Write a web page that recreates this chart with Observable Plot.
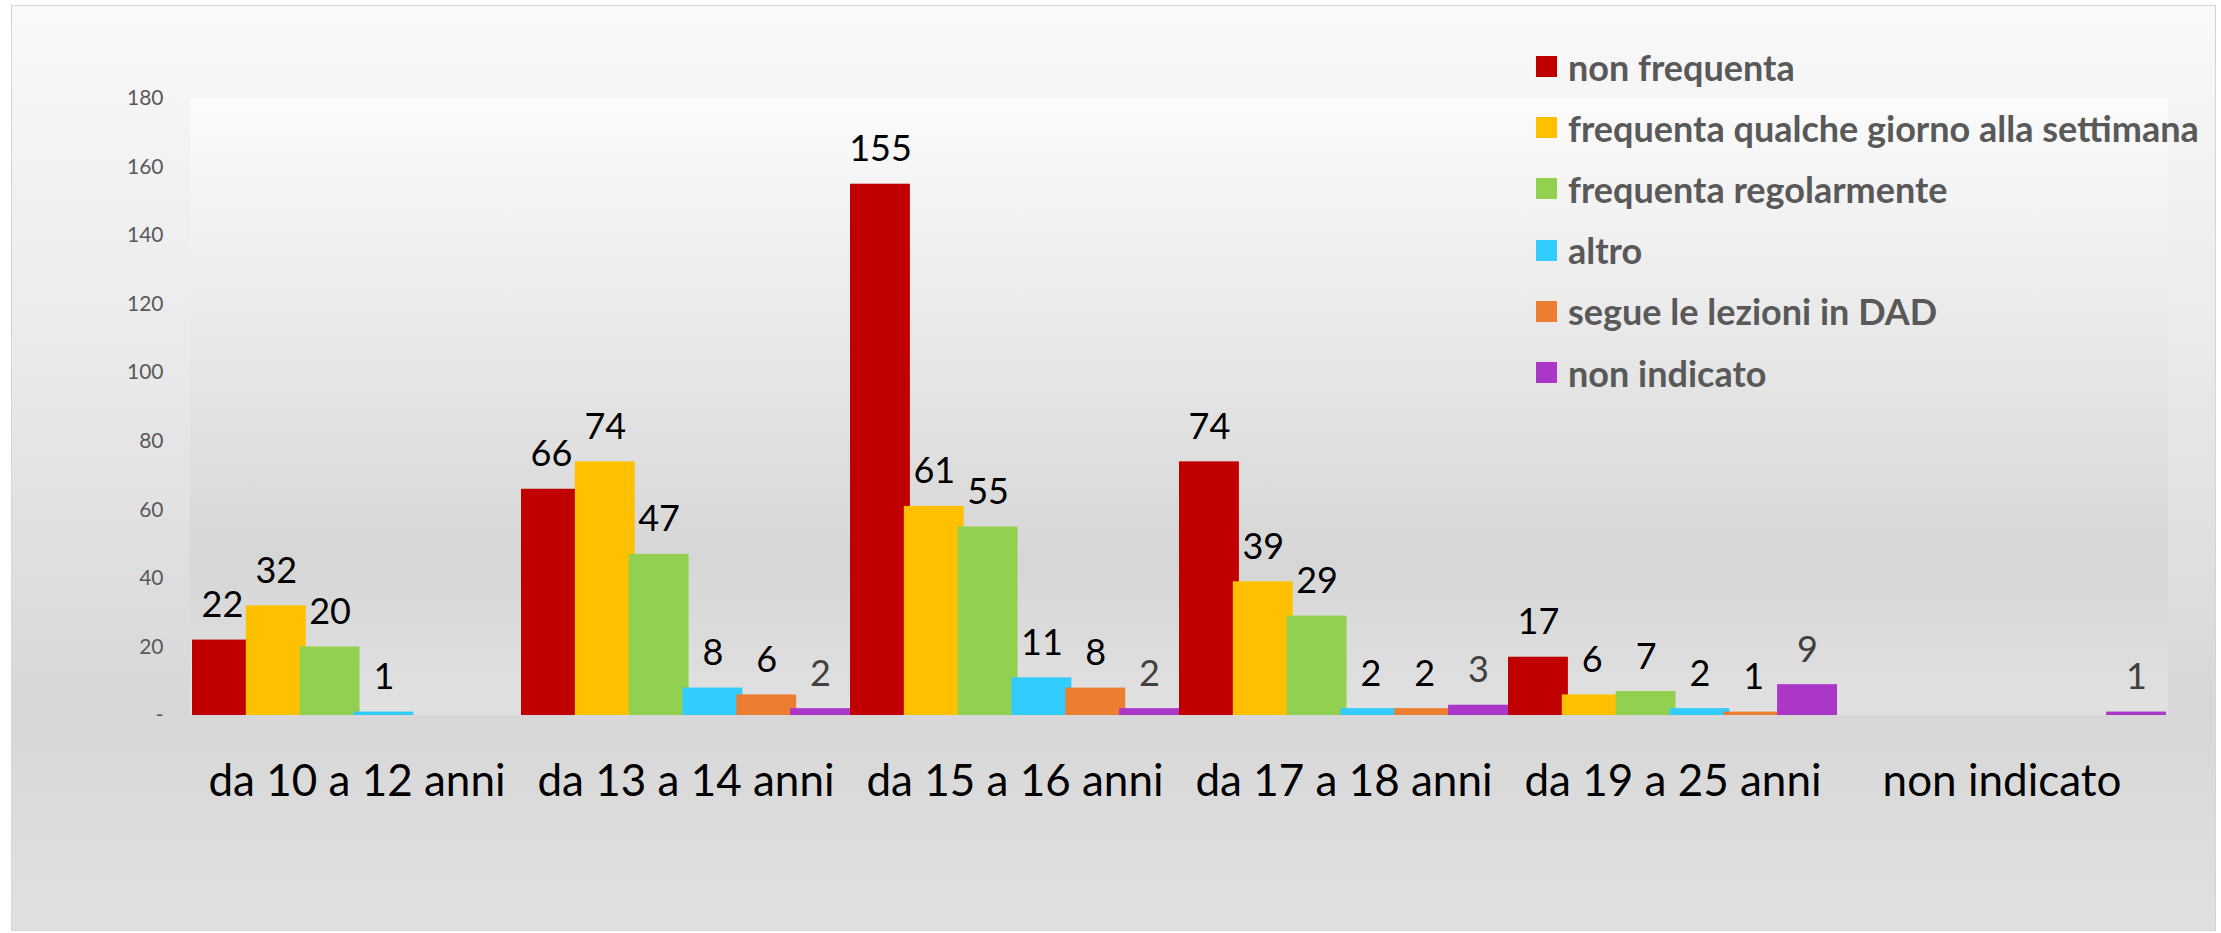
<!DOCTYPE html>
<html>
<head>
<meta charset="utf-8">
<script src="https://cdn.jsdelivr.net/npm/d3@7"></script>
<script src="https://cdn.jsdelivr.net/npm/@observablehq/plot@0.6"></script>
<style>
  body { margin: 0; background: #ffffff; }
  #wrap { position: relative; width: 2221px; height: 933px; overflow: hidden; font-family: Lato, sans-serif; }
  #outer { position: absolute; left: 11px; top: 5px; width: 2203px; height: 924px; border: 1px solid #d4d4d4;
    background: linear-gradient(to bottom, #f9f9f9 0%, #ebebeb 35%, #d7d7d7 76%, #e0e0e0 100%); }
  #plotbg { position: absolute;
    background: linear-gradient(to bottom, #fbfbfb 0%, #e8e8e8 40%, #d6d6d6 75%, #e1e1e1 100%); }
  #chart { position: absolute; left: 0; top: 0; }
  #legend { position: absolute; left: 1536px; top: 36px; }
  .row { display: flex; align-items: center; height: 61.2px; }
  .sw { width: 21px; height: 21px; margin-right: 11px; flex: none; }
  .lab { font-family: Lato, sans-serif; font-weight: 700; font-size: 36px; color: #595959; white-space: nowrap; }
</style>
</head>
<body>
<div id="wrap">
  <div id="outer"></div>
  <div id="plotbg"></div>
  <div id="chart"></div>
  <div id="legend"></div>
</div>
<script>
// ---- data ----
const categories = ["da 10 a 12 anni", "da 13 a 14 anni", "da 15 a 16 anni", "da 17 a 18 anni", "da 19 a 25 anni", "non indicato"];
const seriesNames = ["non frequenta", "frequenta qualche giorno alla settimana", "frequenta regolarmente", "altro", "segue le lezioni in DAD", "non indicato"];
const nonFrequenta  = [22, 66, 155, 74, 17, 0];
const qualcheGiorno = [32, 74, 61, 39, 6, 0];
const regolarmente  = [20, 47, 55, 29, 7, 0];
const altro         = [1, 8, 11, 2, 2, 0];
const lezioniDAD    = [0, 6, 8, 2, 1, 0];
const nonIndicato   = [0, 2, 2, 3, 9, 1];
const seriesColors  = ["#C00000", "#FFC000", "#92D050", "#33CCFF", "#ED7D31", "#AB37C8"];
const yTicks = [0, 20, 40, 60, 80, 100, 120, 140, 160, 180];

const seriesValues = [nonFrequenta, qualcheGiorno, regolarmente, altro, lezioniDAD, nonIndicato];
const rows = [];
categories.forEach((c, i) => {
  seriesNames.forEach((s, j) => {
    rows.push({category: c, series: s, value: seriesValues[j][i]});
  });
});
const shown = rows.filter(d => d.value > 0);

// ---- layout ----
const W = 2221, H = 933;
const mL = 190, mR = 53, mT = 98, mB = 218;

const bg = document.getElementById("plotbg");
bg.style.left = mL + "px";
bg.style.top = mT + "px";
bg.style.width = (W - mL - mR) + "px";
bg.style.height = (H - mT - mB) + "px";

const chart = Plot.plot({
  width: W,
  height: H,
  marginLeft: mL,
  marginRight: mR,
  marginTop: mT,
  marginBottom: mB,
  style: {background: "transparent", fontFamily: "Lato, sans-serif", overflow: "visible"},
  fx: {domain: categories, padding: 0, label: null},
  x: {domain: seriesNames, paddingInner: -0.113, paddingOuter: 0, round: false, axis: null},
  y: {domain: [0, 180]},
  color: {domain: seriesNames, range: seriesColors},
  marks: [
    Plot.axisY({ticks: yTicks, tickFormat: d => d === 0 ? "-" : String(d), tickSize: 0, tickPadding: 29,
      fontSize: 21, color: "#595959", label: null}),
    Plot.axisFx({tickSize: 0, tickPadding: 49, fontSize: 44, color: "#000000", label: null, anchor: "bottom"}),
    Plot.barY(shown, {fx: "category", x: "series", y: "value", fill: "series"}),
    Plot.text(shown.filter(d => d.series !== "non indicato"), {fx: "category", x: "series", y: "value",
      text: d => String(d.value), lineAnchor: "bottom", dy: -23, fontSize: 36, fill: "#000000"}),
    Plot.text(shown.filter(d => d.series === "non indicato"), {fx: "category", x: "series", y: "value",
      text: d => String(d.value), lineAnchor: "bottom", dy: -23, fontSize: 36, fill: "#404040"})
  ]
});
document.getElementById("chart").appendChild(chart);

// ---- legend ----
const legend = d3.select("#legend");
seriesNames.forEach((s, i) => {
  const r = legend.append("div").attr("class", "row");
  r.append("div").attr("class", "sw").style("background", seriesColors[i]);
  r.append("div").attr("class", "lab").text(s);
});
</script>
</body>
</html>
